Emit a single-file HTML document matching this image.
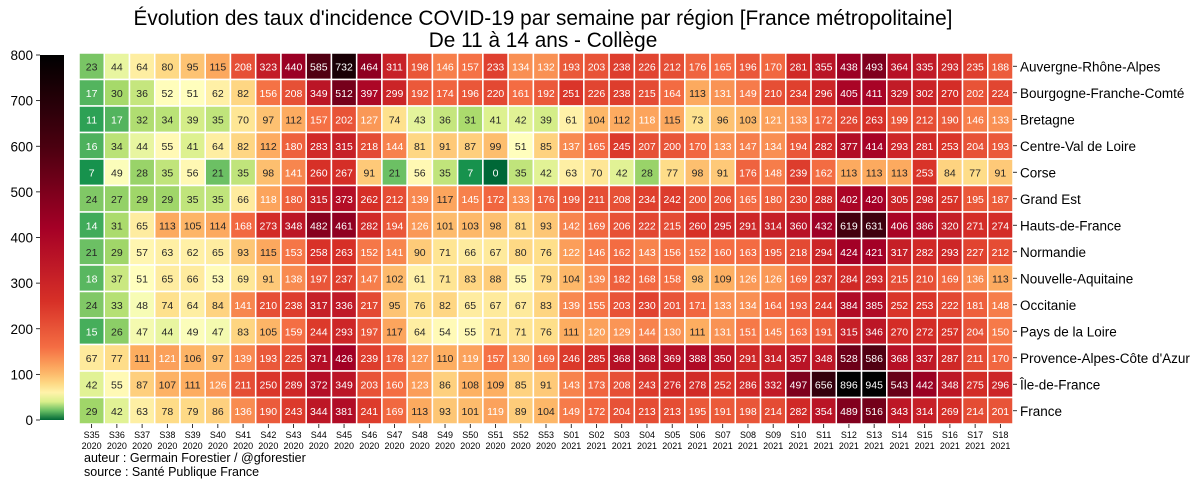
<!DOCTYPE html>
<html><head><meta charset="utf-8">
<style>
html,body{margin:0;padding:0;background:#fff;}
svg{display:block;font-family:"Liberation Sans","DejaVu Sans",sans-serif;}
</style></head>
<body>
<svg id="chart" width="1200" height="481" viewBox="0 0 1200 481">
<defs>
<linearGradient id="cbgrad" x1="0" y1="1" x2="0" y2="0"></linearGradient>
</defs>
<text x="543" y="25" text-anchor="middle" font-size="20.8" fill="#000">Évolution des taux d'incidence COVID-19 par semaine par région [France métropolitaine]</text>
<text x="543" y="47" text-anchor="middle" font-size="20.8" fill="#000">De 11 à 14 ans - Collège</text>
<g id="cells"></g>
<g id="rowlabels"></g>
<g id="collabels"></g>
<g id="colorbar"></g>
<text x="84" y="462" font-size="12.5" fill="#000">auteur : Germain Forestier / @gforestier</text>
<text x="84" y="476" font-size="12.5" fill="#000">source : Santé Publique France</text>
</svg>
<script>
const regions = ["Auvergne-Rhône-Alpes","Bourgogne-Franche-Comté","Bretagne","Centre-Val de Loire","Corse","Grand Est","Hauts-de-France","Normandie","Nouvelle-Aquitaine","Occitanie","Pays de la Loire","Provence-Alpes-Côte d'Azur","Île-de-France","France"];
const weeks = ["S35","S36","S37","S38","S39","S40","S41","S42","S43","S44","S45","S46","S47","S48","S49","S50","S51","S52","S53","S01","S02","S03","S04","S05","S06","S07","S08","S09","S10","S11","S12","S13","S14","S15","S16","S17","S18"];
const years = ["2020","2020","2020","2020","2020","2020","2020","2020","2020","2020","2020","2020","2020","2020","2020","2020","2020","2020","2020","2021","2021","2021","2021","2021","2021","2021","2021","2021","2021","2021","2021","2021","2021","2021","2021","2021","2021"];
const rowARA = [23,44,64,80,95,115,208,323,440,585,732,464,311,198,146,157,233,134,132,193,203,238,226,212,176,165,196,170,281,355,438,493,364,335,293,235,188];
const rowBFC = [17,30,36,52,51,62,82,156,208,349,512,397,299,192,174,196,220,161,192,251,226,238,215,164,113,131,149,210,234,296,405,411,329,302,270,202,224];
const rowBRE = [11,17,32,34,39,35,70,97,112,157,202,127,74,43,36,31,41,42,39,61,104,112,118,115,73,96,103,121,133,172,226,263,199,212,190,146,133];
const rowCVL = [16,34,44,55,41,64,82,112,180,283,315,218,144,81,91,87,99,51,85,137,165,245,207,200,170,133,147,134,194,282,377,414,293,281,253,204,193];
const rowCOR = [7,49,28,35,56,21,35,98,141,260,267,91,21,56,35,7,0,35,42,63,70,42,28,77,98,91,176,148,239,162,113,113,113,253,84,77,91];
const rowGES = [24,27,29,29,35,35,66,118,180,315,373,262,212,139,117,145,172,133,176,199,211,208,234,242,200,206,165,180,230,288,402,420,305,298,257,195,187];
const rowHDF = [14,31,65,113,105,114,168,273,348,482,461,282,194,126,101,103,98,81,93,142,169,206,222,215,260,295,291,314,360,432,619,631,406,386,320,271,274];
const rowNOR = [21,29,57,63,62,65,93,115,153,258,263,152,141,90,71,66,67,80,76,122,146,162,143,156,152,160,163,195,218,294,424,421,317,282,293,227,212];
const rowNAQ = [18,37,51,65,66,53,69,91,138,197,237,147,102,61,71,83,88,55,79,104,139,182,168,158,98,109,126,126,169,237,284,293,215,210,169,136,113];
const rowOCC = [24,33,48,74,64,84,141,210,238,317,336,217,95,76,82,65,67,67,83,139,155,203,230,201,171,133,134,164,193,244,384,385,252,253,222,181,148];
const rowPDL = [15,26,47,44,49,47,83,105,159,244,293,197,117,64,54,55,71,71,76,111,120,129,144,130,111,131,151,145,163,191,315,346,270,272,257,204,150];
const rowPAC = [67,77,111,121,106,97,139,193,225,371,426,239,178,127,110,119,157,130,169,246,285,368,368,369,388,350,291,314,357,348,528,586,368,337,287,211,170];
const rowIDF = [42,55,87,107,111,126,211,250,289,372,349,203,160,123,86,108,109,85,91,143,173,208,243,276,278,252,286,332,497,656,896,945,543,442,348,275,296];
const rowFRA = [29,42,63,78,79,86,136,190,243,344,381,241,169,113,93,101,119,89,104,149,172,204,213,213,195,191,198,214,282,354,489,516,343,314,269,214,201];
const matrix = [rowARA,rowBFC,rowBRE,rowCVL,rowCOR,rowGES,rowHDF,rowNOR,rowNAQ,rowOCC,rowPDL,rowPAC,rowIDF,rowFRA];
const cbTicks = [0,100,200,300,400,500,600,700,800];

const NS = "http://www.w3.org/2000/svg";
const X0 = 79, X1 = 1013, Y0 = 53, Y1 = 424;
const cw = (X1 - X0) / weeks.length, ch = (Y1 - Y0) / regions.length;
const vmax = 800;
const stops = [[0,"#006837"],[8,"#1a9850"],[20,"#66bd63"],[30,"#a6d96a"],[40,"#d9ef8b"],[50,"#ffffbf"],[75,"#fee08b"],[110,"#fdae61"],[160,"#f46d43"],[260,"#d73027"],[420,"#a50026"],[600,"#4a0010"],[800,"#000000"]];
function hex(c){return [parseInt(c.slice(1,3),16),parseInt(c.slice(3,5),16),parseInt(c.slice(5,7),16)];}
function color(v){
  v = Math.max(0, Math.min(vmax, v));
  for (let i=1;i<stops.length;i++){
    if (v <= stops[i][0]){
      const a=stops[i-1], b=stops[i], t=(v-a[0])/(b[0]-a[0]);
      const ca=hex(a[1]), cb=hex(b[1]);
      return "rgb("+ca.map((x,k)=>Math.round(x+(cb[k]-x)*t)).join(",")+")";
    }
  }
  return "#000";
}
const xPos = i => X0 + i * cw;
const yPos = j => Y0 + j * ch;
const cells = document.getElementById("cells");
matrix.forEach((row, j) => {
  row.forEach((v, i) => {
    const r = document.createElementNS(NS, "rect");
    r.setAttribute("x", xPos(i)); r.setAttribute("y", yPos(j));
    r.setAttribute("width", cw); r.setAttribute("height", ch);
    r.setAttribute("fill", color(v)); r.setAttribute("stroke", "#fff"); r.setAttribute("stroke-width", "1.5");
    
    
    cells.appendChild(r);
    const t = document.createElementNS(NS, "text");
    t.setAttribute("x", xPos(i) + cw/2); t.setAttribute("y", yPos(j) + ch/2 + 4);
    t.setAttribute("text-anchor", "middle"); t.setAttribute("font-size", "10.5");
    t.setAttribute("fill", (v <= 18 || v >= 118) ? "#fff" : "#262626");
    t.textContent = v;
    
    
    cells.appendChild(t);
  });
});
const rl = document.getElementById("rowlabels");
regions.forEach((name, j) => {
  const tk = document.createElementNS(NS, "line");
  tk.setAttribute("x1", X1); tk.setAttribute("x2", X1+4);
  tk.setAttribute("y1", yPos(j)+ch/2); tk.setAttribute("y2", yPos(j)+ch/2);
  tk.setAttribute("stroke", "#000"); tk.setAttribute("stroke-width", "0.8");
  
  
  rl.appendChild(tk);
  const t = document.createElementNS(NS, "text");
  t.setAttribute("x", X1 + 7); t.setAttribute("y", yPos(j) + ch/2 + 5);
  t.setAttribute("font-size", "13.5"); t.setAttribute("fill", "#000");
  t.textContent = name;
  
  
  rl.appendChild(t);
});
const cl = document.getElementById("collabels");
weeks.forEach((w, i) => {
  const cx = xPos(i) + cw/2;
  const tk = document.createElementNS(NS, "line");
  tk.setAttribute("x1", cx); tk.setAttribute("x2", cx);
  tk.setAttribute("y1", Y1); tk.setAttribute("y2", Y1+4);
  tk.setAttribute("stroke", "#000"); tk.setAttribute("stroke-width", "0.8");
  
  
  cl.appendChild(tk);
  const t = document.createElementNS(NS, "text");
  t.setAttribute("x", cx); t.setAttribute("y", Y1 + 14);
  t.setAttribute("text-anchor", "middle"); t.setAttribute("font-size", "9");
  t.textContent = w;
  
  
  cl.appendChild(t);
  const t2 = document.createElementNS(NS, "text");
  t2.setAttribute("x", cx); t2.setAttribute("y", Y1 + 25);
  t2.setAttribute("text-anchor", "middle"); t2.setAttribute("font-size", "9");
  t2.textContent = years[i];
  
  
  cl.appendChild(t2);
});
const grad = document.getElementById("cbgrad");
for (let k=0;k<=40;k++){
  const s = document.createElementNS(NS, "stop");
  s.setAttribute("offset", (k/40));
  s.setAttribute("stop-color", color(vmax*k/40));
  grad.appendChild(s);
}
const CBX = 40, CBW = 24, CBT = 55, CBB = 420;
const cbY = v => CBB - (v / vmax) * (CBB - CBT);
const cb = document.getElementById("colorbar");
const cr = document.createElementNS(NS, "rect");
cr.setAttribute("x", CBX); cr.setAttribute("y", CBT); cr.setAttribute("width", CBW); cr.setAttribute("height", CBB-CBT);
cr.setAttribute("fill", "url(#cbgrad)");


cb.appendChild(cr);
cbTicks.forEach(v => {
  const y = cbY(v);
  const tk = document.createElementNS(NS, "line");
  tk.setAttribute("x1", CBX-4); tk.setAttribute("x2", CBX); tk.setAttribute("y1", y); tk.setAttribute("y2", y);
  tk.setAttribute("stroke", "#000"); tk.setAttribute("stroke-width", "0.8");
  
  
  cb.appendChild(tk);
  const t = document.createElementNS(NS, "text");
  t.setAttribute("x", CBX-7); t.setAttribute("y", y+5);
  t.setAttribute("text-anchor", "end"); t.setAttribute("font-size", "13.5");
  t.textContent = v;
  
  
  cb.appendChild(t);
});
</script>
</body></html>
